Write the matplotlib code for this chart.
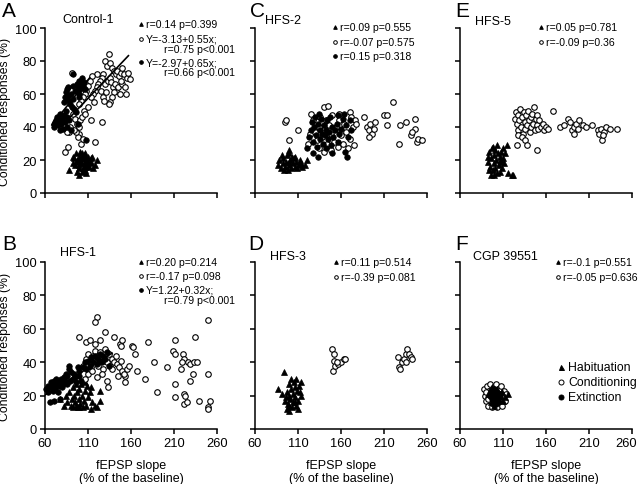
"""Scatter panels: conditioned responses vs fEPSP slope (A-F)."""

import numpy as np
from matplotlib import pyplot as plt
from matplotlib.transforms import ScaledTranslation

plt.rcParams["font.family"] = ["Liberation Sans", "DejaVu Sans"]

# ---- data (x = fEPSP slope %, y = conditioned responses %) ----
a_hab = [(88, 14), (99, 11), (121, 20), (95, 17), (97, 20), (100, 22), (102, 18), (104, 21),
         (106, 16), (108, 19), (110, 22), (112, 18), (96, 24), (99, 15), (101, 25), (103, 13),
         (105, 23), (107, 14), (109, 20), (111, 16), (113, 21), (98, 19), (100, 17), (102, 21),
         (104, 15), (106, 24), (108, 12), (110, 17), (114, 19), (116, 15), (94, 21), (97, 13),
         (92, 18), (93, 22), (115, 22), (118, 17), (101, 20), (105, 18), (103, 24), (107, 22)]
a_cond = [(134, 84), (130, 80), (132, 77), (136, 79), (138, 76), (140, 74), (142, 72), (144, 74),
          (146, 71), (148, 73), (150, 76), (152, 72), (155, 70), (157, 73), (159, 69), (128, 72),
          (126, 70), (124, 68), (122, 66), (120, 64), (118, 62), (116, 60), (130, 66), (133, 68),
          (135, 70), (137, 67), (139, 64), (141, 66), (143, 62), (145, 64), (147, 60), (140, 61),
          (138, 58), (136, 55), (134, 54), (125, 62), (127, 58), (129, 56), (131, 61), (150, 66),
          (153, 64), (148, 68), (120, 72), (115, 71), (112, 68), (110, 65), (108, 62), (106, 60),
          (104, 58), (102, 56), (100, 54), (113, 58), (117, 55), (154, 60),
          (91, 73), (93, 48), (95, 45), (97, 42), (99, 40), (101, 44), (103, 46), (105, 50),
          (100, 36), (98, 34), (96, 37), (102, 30), (104, 33), (94, 38), (88, 37), (86, 37),
          (89, 40), (83, 25), (87, 28), (114, 44), (126, 43), (118, 31), (107, 48), (110, 52)]
a_ext = [(70, 40), (72, 43), (74, 46), (75, 41), (76, 44), (78, 48), (79, 42), (80, 45), (82, 47),
         (83, 43), (84, 50), (81, 39), (77, 38), (73, 44), (71, 42), (85, 46), (86, 40), (88, 44),
         (90, 38), (82, 55), (83, 58), (84, 61), (85, 57), (86, 63), (87, 59), (88, 56), (89, 54),
         (90, 60), (91, 52), (92, 57), (95, 62), (97, 66), (98, 64), (100, 68), (101, 63), (99, 60),
         (102, 66), (103, 70), (104, 65), (105, 67), (106, 63), (94, 51), (96, 49), (98, 42),
         (92, 72), (108, 32), (100, 58), (87, 64), (93, 65)]

c_hab = [(87, 17), (88, 20), (90, 15), (92, 18), (93, 21), (95, 16), (96, 19), (97, 23), (99, 26),
         (100, 17), (101, 20), (102, 15), (104, 18), (105, 21), (106, 16), (108, 19), (109, 15),
         (111, 17), (113, 18), (115, 16), (118, 17), (121, 20), (94, 14), (98, 14), (103, 22),
         (107, 22), (91, 23), (99, 19), (112, 20), (100, 24)]
c_cond = [(95, 43), (96, 44), (99, 32), (110, 38), (125, 48), (140, 52), (145, 53), (158, 48),
          (170, 49), (187, 46), (190, 40), (192, 38), (194, 42), (196, 36), (198, 39), (200, 43),
          (193, 34), (210, 47), (214, 47), (214, 41), (220, 55), (227, 30), (229, 41), (236, 43),
          (246, 45), (246, 39), (241, 35), (243, 37), (248, 31), (249, 33), (254, 32),
          (122, 30), (124, 36), (128, 44), (130, 37), (132, 32), (134, 40), (136, 46), (138, 34),
          (140, 38), (142, 44), (144, 30), (146, 41), (148, 36), (150, 47), (152, 31), (154, 40),
          (156, 28), (158, 44), (160, 35), (162, 30), (164, 42), (166, 37), (168, 27), (170, 33),
          (172, 46), (174, 40), (176, 44), (178, 42), (148, 26), (140, 25), (134, 27), (175, 29)]
c_ext = [(121, 27), (123, 34), (125, 38), (126, 43), (127, 31), (129, 40), (130, 46), (131, 35),
         (132, 28), (133, 42), (135, 38), (136, 33), (137, 45), (138, 36), (139, 30), (140, 41),
         (141, 35), (142, 27), (143, 38), (144, 44), (145, 33), (146, 37), (148, 29), (149, 40),
         (151, 34), (153, 38), (155, 42), (156, 31), (158, 36), (160, 39), (162, 45), (164, 48),
         (166, 41), (168, 34), (170, 44), (172, 38), (167, 22), (165, 25), (150, 24), (128, 24),
         (133, 22), (157, 47), (147, 46), (134, 48)]

e_hab = [(92, 22), (93, 19), (94, 25), (95, 16), (96, 21), (97, 27), (98, 14), (99, 23), (100, 18),
         (101, 26), (102, 20), (103, 12), (104, 24), (105, 17), (106, 22), (107, 19), (108, 25),
         (109, 15), (110, 21), (111, 18), (112, 24), (115, 29), (116, 12), (120, 11), (122, 11),
         (96, 11), (100, 11), (94, 14), (106, 13), (98, 28), (103, 29), (101, 15), (108, 20),
         (110, 27)]
e_cond = [(124, 45), (125, 49), (126, 42), (127, 38), (128, 47), (129, 44), (130, 51), (131, 40),
          (132, 46), (133, 36), (134, 49), (135, 43), (136, 39), (137, 47), (138, 41), (139, 50),
          (140, 44), (141, 37), (142, 46), (143, 40), (144, 48), (145, 42), (146, 52), (147, 38),
          (148, 45), (149, 41), (150, 47), (151, 39), (152, 44), (154, 40), (156, 42), (158, 38),
          (160, 40), (162, 39), (128, 35), (132, 34), (136, 32), (126, 29), (138, 29), (149, 26),
          (168, 50), (176, 40), (181, 41), (185, 45), (188, 43), (190, 38), (192, 40), (193, 36),
          (195, 42), (197, 39), (198, 44), (203, 41), (207, 40), (213, 41), (220, 38), (222, 36),
          (225, 32), (224, 39), (228, 37), (230, 40), (234, 39), (242, 39), (226, 35)]

b_hab = [(78, 18), (82, 14), (84, 20), (86, 16), (88, 22), (90, 14), (91, 18), (92, 25), (93, 13),
         (94, 20), (95, 16), (96, 27), (97, 22), (98, 13), (99, 18), (100, 24), (101, 15), (102, 27),
         (103, 20), (104, 13), (105, 17), (106, 23), (107, 28), (108, 14), (110, 19), (112, 22),
         (113, 12), (115, 16), (118, 14), (120, 13), (124, 17), (124, 23), (114, 25), (109, 26),
         (96, 14), (100, 13)]
b_cond = [(120, 67), (118, 64), (250, 65), (100, 55), (108, 52), (112, 53), (118, 51), (124, 53),
          (130, 58), (140, 55), (147, 51), (150, 53), (148, 50), (161, 50), (162, 49), (165, 45),
          (180, 52), (187, 40), (202, 37), (176, 30), (190, 22), (211, 53), (209, 47), (211, 45),
          (220, 45), (222, 42), (219, 40), (226, 40), (229, 39), (233, 40), (237, 40), (234, 55),
          (218, 36), (232, 33), (229, 29), (250, 33), (211, 27), (211, 19), (222, 21), (223, 20),
          (222, 15), (225, 16), (239, 17), (250, 13), (250, 12), (252, 17), (153, 28), (153, 32),
          (132, 29), (133, 25), (110, 33), (106, 30), (167, 35),
          (104, 38), (108, 42), (110, 45), (112, 40), (114, 37), (116, 44), (118, 47), (120, 41),
          (122, 38), (124, 46), (126, 43), (128, 36), (130, 48), (132, 40), (134, 45), (136, 38),
          (138, 42), (140, 40), (142, 44), (144, 39), (146, 37), (148, 41), (150, 35), (152, 33),
          (155, 36), (158, 38), (126, 33), (120, 31), (115, 35), (138, 36), (145, 32)]
b_ext = [(61, 24), (63, 26), (64, 22), (65, 25), (66, 16), (67, 28), (68, 25), (69, 23), (70, 27),
         (71, 29), (72, 24), (73, 30), (74, 27), (75, 22), (76, 26), (77, 18), (78, 28), (79, 30),
         (80, 25), (81, 27), (82, 31), (83, 29), (84, 33), (85, 27), (86, 32), (88, 38), (88, 36),
         (89, 29), (90, 34), (92, 30), (94, 33), (96, 28), (98, 37), (99, 32), (100, 35), (102, 29),
         (104, 37), (106, 40), (108, 36), (110, 41), (112, 38), (114, 43), (116, 40), (118, 44),
         (120, 39), (122, 42), (124, 45), (126, 40), (128, 44), (130, 42), (132, 46), (134, 38),
         (70, 17), (95, 31)]

d_hab = [(87, 24), (91, 21), (94, 34), (95, 17), (96, 19), (97, 22), (98, 15), (99, 27), (100, 20),
         (101, 18), (102, 24), (103, 13), (104, 21), (105, 28), (106, 16), (107, 19), (108, 30),
         (109, 23), (110, 17), (111, 26), (112, 22), (113, 28), (114, 20), (100, 14), (97, 12),
         (104, 16), (108, 14), (102, 30), (110, 12), (106, 25), (99, 11)]
d_cond = [(149, 48), (152, 45), (152, 41), (151, 35), (153, 38), (157, 39), (160, 40), (163, 42),
          (165, 42), (155, 40), (226, 43), (228, 37), (229, 36), (231, 40), (233, 42), (235, 45),
          (237, 48), (239, 45), (241, 43), (243, 42), (236, 40)]

f_hab = [(93, 21), (96, 16), (98, 22), (101, 19), (103, 24), (105, 18), (107, 20), (109, 22),
         (112, 19), (116, 21), (100, 14), (104, 22), (97, 25), (110, 17)]
f_cond = [(88, 24), (89, 20), (90, 17), (91, 26), (92, 14), (94, 23), (95, 27), (97, 13), (99, 25),
          (100, 16), (102, 27), (103, 13), (105, 24), (106, 17), (108, 26), (109, 14), (110, 20),
          (111, 23), (112, 17), (113, 21), (104, 20), (96, 19), (93, 18), (107, 21), (90, 22),
          (101, 21)]
f_ext = [(95, 20), (97, 18), (99, 21), (100, 19), (101, 17), (102, 22), (103, 19), (104, 16),
         (105, 21), (98, 15), (96, 23), (100, 24), (106, 19), (99, 17), (102, 15)]

# regression lines: (intercept, slope, x_start, x_end)
a_cond_fit = (-3.13, 0.55, 79, 157)
a_ext_fit = (-2.97, 0.65, 68, 112)
b_ext_fit = (1.22, 0.32, 60, 138)

x_ticks = [60, 110, 160, 210, 260]
y_ticks = [0, 20, 40, 60, 80, 100]

W, H = 640, 485
fig = plt.figure(figsize=(W / 100, H / 100), dpi=100)


def fx(px):
    return px / W


def fy(py):
    return 1 - py / H


def make_axes(left, top, bottom, show_x, show_y):
    ax = fig.add_axes([fx(left), fy(bottom), 172 / W, (bottom - top) / H])
    ax.set_xlim(60, 260)
    ax.set_ylim(0, 100)
    ax.set_xticks(x_ticks)
    ax.set_yticks(y_ticks)
    for side in ("top", "right"):
        ax.spines[side].set_visible(False)
    for side in ("left", "bottom"):
        ax.spines[side].set_linewidth(1.1)
    ax.tick_params(direction="out", length=3.8, width=1.1, labelsize=9.3,
                   labelbottom=show_x, labelleft=show_y, pad=2)
    if show_y:
        ax.set_ylabel("Conditioned responses (%)", fontsize=8.8)
        ax.yaxis.set_label_coords(-0.195, 0.5)
    if show_x:
        ax.set_xlabel("fEPSP slope\n(% of the baseline)", fontsize=9, linespacing=1.1)
        ax.xaxis.set_label_coords(0.5, -0.18)
    return ax


def scatter(ax, pts, kind):
    arr = np.array(pts, dtype=float)
    style = {
        "hab": dict(marker="^", mfc="black", mec="black", ms=4.2, mew=0.5),
        "cond": dict(marker="o", mfc="white", mec="black", ms=4.0, mew=0.8),
        "ext": dict(marker="o", mfc="black", mec="black", ms=4.0, mew=0.5),
    }[kind]
    ax.plot(arr[:, 0], arr[:, 1], ls="none", clip_on=False, **style)


def fit_line(ax, fit):
    b0, b1, x0, x1 = fit
    xs = np.array([x0, x1])
    ax.plot(xs, b0 + b1 * xs, color="black", lw=1.2)


def key(px, py, kind, size=2.6):
    style = {
        "hab": dict(marker="^", mfc="black", mec="black"),
        "cond": dict(marker="o", mfc="white", mec="black"),
        "ext": dict(marker="o", mfc="black", mec="black"),
    }[kind]
    fig.add_artist(plt.Line2D([fx(px)], [fy(py)], ls="none", ms=size, mew=0.7,
                              transform=fig.transFigure, **style))


def put(px, py, s, size=7.6, **kw):
    fig.text(fx(px), fy(py), s, fontsize=size, va="center", ha="left", **kw)


ax_a = make_axes(45, 29, 194, False, True)
ax_c = make_axes(255, 29, 194, False, False)
ax_e = make_axes(460, 29, 194, False, False)
ax_b = make_axes(45, 263, 430, True, True)
ax_d = make_axes(255, 263, 430, True, False)
ax_f = make_axes(460, 263, 430, True, False)

# the last tick label of the right-most panel sits a little inward
last = ax_f.xaxis.get_major_ticks()[-1].label1
last.set_transform(last.get_transform() + ScaledTranslation(-4 / 72, 0, fig.dpi_scale_trans))

scatter(ax_a, a_hab, "hab")
scatter(ax_a, a_cond, "cond")
scatter(ax_a, a_ext, "ext")
fit_line(ax_a, a_cond_fit)
fit_line(ax_a, a_ext_fit)

scatter(ax_c, c_hab, "hab")
scatter(ax_c, c_cond, "cond")
scatter(ax_c, c_ext, "ext")

scatter(ax_e, e_hab, "hab")
scatter(ax_e, e_cond, "cond")

scatter(ax_b, b_hab, "hab")
scatter(ax_b, b_cond, "cond")
scatter(ax_b, b_ext, "ext")
fit_line(ax_b, b_ext_fit)

scatter(ax_d, d_hab, "hab")
scatter(ax_d, d_cond, "cond")

scatter(ax_f, f_cond, "cond")
scatter(ax_f, f_ext, "ext")
scatter(ax_f, f_hab, "hab")

# panel letters and titles
for px, py, letter in [(2, 2, "A"), (250, 2, "C"), (455, 2, "E"),
                       (2, 235, "B"), (248, 235, "D"), (455, 235, "F")]:
    fig.text(fx(px), fy(py), letter, fontsize=15, va="top", ha="left")
for px, py, title in [(62, 20, "Control-1"), (265, 21, "HFS-2"), (475, 22, "HFS-5"),
                      (60, 253, "HFS-1"), (270, 257, "HFS-3"), (473, 257, "CGP 39551")]:
    put(px, py, title, size=9)

# statistics
key(141, 25, "hab"); put(146, 25, "r=0.14 p=0.399")
key(141, 40, "cond"); put(146, 40, "Y=-3.13+0.55x;")
put(164, 50, "r=0.75 p<0.001")
key(141, 63, "ext"); put(146, 63, "Y=-2.97+0.65x;")
put(164, 73, "r=0.66 p<0.001")

key(335, 28, "hab"); put(340, 28, "r=0.09 p=0.555")
key(335, 43, "cond"); put(340, 43, "r=-0.07 p=0.575")
key(335, 57, "ext"); put(340, 57, "r=0.15 p=0.318")

key(541, 28, "hab"); put(546, 28, "r=0.05 p=0.781")
key(541, 43, "cond"); put(546, 43, "r=-0.09 p=0.36")

key(141, 263, "hab"); put(146, 263, "r=0.20 p=0.214")
key(141, 277, "cond"); put(146, 277, "r=-0.17 p=0.098")
key(141, 291, "ext"); put(146, 291, "Y=1.22+0.32x;")
put(164, 301, "r=0.79 p<0.001")

key(336, 263, "hab"); put(341, 263, "r=0.11 p=0.514")
key(336, 278, "cond"); put(341, 278, "r=-0.39 p=0.081")

key(558, 263, "hab"); put(563, 263, "r=-0.1 p=0.551")
key(558, 278, "cond"); put(563, 278, "r=-0.05 p=0.636")

# legend
for py, kind, label in [(368, "hab", "Habituation"), (383, "cond", "Conditioning"),
                        (398, "ext", "Extinction")]:
    key(561, py, kind, size=3.6)
    put(568, py, label, size=8.8)

fig.savefig("out.png", dpi=100)
